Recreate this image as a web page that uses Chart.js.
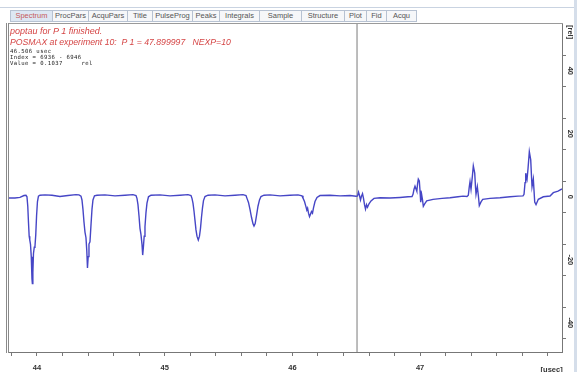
<!DOCTYPE html>
<html lang="en">
<head>
  <meta charset="UTF-8" />
  <title>Spectrum - poptau P 1</title>
  <script src="https://cdn.jsdelivr.net/npm/chart.js"></script>

  <style>
    body {
      margin: 0;
      background: #fff;
      font-family: "Liberation Sans", Arial, sans-serif;
    }

    #window {
      position: relative;
      width: 577px;
      height: 372px;
      overflow: hidden;
    }

    #plot-container {
      position: absolute;
      left: 0;
      top: 0;
      width: 577px;
      height: 372px;
    }

    #top-line {
      position: absolute;
      left: 0;
      top: 7px;
      width: 577px;
      height: 1px;
      background: #c9d3e1;
    }

    #tabs {
      position: absolute;
      left: 10px;
      top: 10px;
      height: 12px;
      display: flex;
    }

    .tab {
      box-sizing: border-box;
      height: 12px;
      border: 1px solid #b7c2d2;
      border-left: none;
      background: #f6f7f9;
      color: #555;
      font-size: 7.5px;
      line-height: 10px;
      text-align: center;
      white-space: nowrap;
    }

    .tab:first-child {
      border-left: 1px solid #b7c2d2;
    }

    .tab.selected {
      background: #dde7f3;
      color: #c65a5a;
    }

    #frame-top {
      position: absolute;
      left: 8px;
      top: 23px;
      width: 555px;
      height: 1px;
      background: #9a9a9a;
    }

    #frame-left {
      position: absolute;
      left: 6px;
      top: 23px;
      width: 1px;
      height: 330px;
      border-left: 1px solid #8a8a8a;
      border-right: 1px solid #8a8a8a;
    }

    #right-strip {
      position: absolute;
      left: 574px;
      top: 0;
      width: 3px;
      height: 372px;
      background: #d5deea;
    }

    .msg {
      position: absolute;
      left: 10px;
      color: #d54545;
      font-style: italic;
      font-size: 9px;
      white-space: pre;
    }

    .info {
      position: absolute;
      left: 10px;
      color: #222;
      font-family: "DejaVu Sans Mono", monospace;
      font-size: 5.6px;
      letter-spacing: 0.4px;
      white-space: pre;
    }
  </style>
</head>
<body>

  <div id="window">
    <div id="plot-container">
      <canvas id="spectrumChart"></canvas>
    </div>

    <div id="top-line"></div>
    <div id="tabs"></div>
    <div id="frame-top"></div>
    <div id="frame-left"></div>
    <div id="right-strip"></div>

    <div class="msg" style="top:26px;">poptau for P 1 finished.</div>
    <div class="msg" style="top:37px; font-size:8.7px;">POSMAX at experiment 10:  P 1 = 47.899997   NEXP=10</div>
    <div class="info" style="top:48px;">46.506 usec</div>
    <div class="info" style="top:54px;">Index = 6936 - 6946</div>
    <div class="info" style="top:60px;">Value = 0.1037     rel</div>
  </div>

  <script>
    // tabs of the data window
    const tabNames = ["Spectrum", "ProcPars", "AcquPars", "Title", "PulseProg", "Peaks",
                      "Integrals", "Sample", "Structure", "Plot", "Fid", "Acqu"];
    const tabWidths = [43, 36, 39, 25, 40, 27, 40, 42, 43, 22, 20, 30];

    // spectrum: time [usec] / intensity [rel]
    const spectrumUsec = [
      43.7807, 43.8277, 43.8669, 43.8982, 43.9139, 43.9217, 43.9280, 43.9334, 43.9389, 43.9436,
      43.9491, 43.9554, 43.9608, 43.9640, 43.9679, 43.9726, 43.9789, 43.9843, 43.9906, 43.9969,
      44.0039, 44.0117, 44.0235, 44.0626, 44.1175, 44.1801, 44.2428, 44.3054, 44.3289, 44.3446,
      44.3524, 44.3602, 44.3681, 44.3759, 44.3837, 44.3900, 44.3955, 44.4009, 44.4072, 44.4150,
      44.4229, 44.4307, 44.4385, 44.4503, 44.4699, 44.5325, 44.6108, 44.6891, 44.7518, 44.7753,
      44.7831, 44.7909, 44.7988, 44.8066, 44.8144, 44.8222, 44.8277, 44.8332, 44.8395, 44.8457,
      44.8536, 44.8614, 44.8731, 44.8927, 44.9632, 45.0415, 45.1198, 45.1825, 45.2060,
      45.2138, 45.2216, 45.2295, 45.2373, 45.2451, 45.2529, 45.2631, 45.2725, 45.2804, 45.2882,
      45.2960, 45.3038, 45.3156, 45.3391, 45.3939, 45.4722, 45.5505, 45.6132, 45.6367,
      45.6445, 45.6562, 45.6680, 45.6797, 45.6915, 45.6993, 45.7087, 45.7189, 45.7306, 45.7424,
      45.7541, 45.7776, 45.8246, 45.9029, 45.9812, 46.0439, 46.0752,
      46.0830, 46.0948, 46.1065, 46.1128, 46.1190, 46.1261, 46.1339, 46.1418, 46.1496, 46.1574,
      46.1652, 46.1770, 46.1927, 46.2161, 46.2945, 46.3728, 46.4511, 46.4981,
      46.5098, 46.5176, 46.5255, 46.5333, 46.5411, 46.5490, 46.5568, 46.5646, 46.5725, 46.5803,
      46.5881, 46.5999, 46.6155, 46.6390, 46.6860, 46.7643, 46.8426, 46.9053, 46.9366,
      46.9444, 46.9523, 46.9601, 46.9679, 46.9742, 46.9804, 46.9859, 46.9938, 46.9992, 47.0047,
      47.0125, 47.0188, 47.0251, 47.0345, 47.0517, 47.1010, 47.1715, 47.2342, 47.2968, 47.3360,
      47.3673,
      47.3775, 47.3845, 47.3908, 47.3986, 47.4080, 47.4166, 47.4276, 47.4339, 47.4378, 47.4480,
      47.4558, 47.4636, 47.4769, 47.4902, 47.5474, 47.6257, 47.7040, 47.7667, 47.8058,
      47.8137, 47.8215, 47.8270, 47.8332, 47.8371, 47.8450, 47.8552, 47.8661, 47.8716, 47.8763,
      47.8865, 47.8974, 47.9076, 47.9256, 47.9648, 48.0173, 48.0431, 48.0799, 48.1112
    ];
    const spectrumRel = [
      -0.4, -0.4, -0.2, 0.4, 0.5, 0.0, -3, -8, -12.5, -13.7,
      -15, -19, -26, -27.5, -24, -18, -16, -15.8, -12, -6,
      -1.5, 0.2, 0.5, 0.6, 0.5, 0.1, 0.4, 0.7, 0.6, 0.2,
      -1, -4, -8, -11.2, -13, -17, -22.6, -19, -15, -14.3,
      -9, -4, -1, 0.3, 0.5, 0.6, 0.3, 0.5, 0.7, 0.4,
      -0.5, -2.5, -6, -10, -12, -15, -18.5, -16, -12.5, -9.5,
      -5, -2, 0, 0.5, 0.6, 0.3, 0.5, 0.7, 0.4,
      -0.5, -2, -4.5, -7.5, -10.5, -12.5, -13.7, -12.5, -10, -6.5,
      -3.5, -1.2, 0.1, 0.5, 0.6, 0.3, 0.5, 0.7, 0.4,
      -0.5, -1.8, -4, -6.5, -8.6, -9.3, -8.5, -6, -3, -1,
      0.1, 0.5, 0.6, 0.3, 0.5, 0.6, 0.3,
      -0.4, -1.5, -3.2, -4.2, -3.6, -5.2, -6.3, -5.5, -4.7, -5.2,
      -3.5, -1.5, -0.2, 0.4, 0.5, 0.3, 0.4, 0.2,
      0.3, 1.5, 0.4, -1.0, 0.2, 1.0, -0.5, -2.5, -3.9, -2.5,
      -3.3, -2.2, -1.3, -0.5, -0.3, -0.4, -0.2, 0.0, 0.1,
      0.8, 2.4, 3.4, 2.5, 1.8, 4.2, 5.6, 5.0, 2.0, -1.7,
      0.6, -1.0, -3.0, -2.3, -1.3, -0.8, -0.5, -0.3, 0.0, 0.2,
      0.1,
      0.5, 3.0, 4.8, 2.4, 6.0, 9.8, 7.5, 3.0, 0.8, 3.2,
      0.5, -2.8, -1.6, -0.8, -0.5, -0.3, 0.0, 0.2, 0.3,
      0.8, 4.5, 7.5, 6.0, 5.5, 9.0, 14.3, 11.7, 7.0, 3.2,
      5.6, -1.7, -2.5, -0.8, 0.0, 0.25, 1.3, 1.8, 2.5
    ];

    // cursor line position
    const cursorUsec = [46.506];

    // axes
    const xMin = 43.781;
    const xMax = 48.111;
    const yMin = -49.27;
    const yMax = 54.86;
    const xTicks = [43.8, 44, 44.2, 44.4, 44.6, 44.8, 45, 45.2, 45.4, 45.6, 45.8,
                    46, 46.2, 46.4, 46.6, 46.8, 47, 47.2, 47.4, 47.6, 47.8, 48];
    const xLabelValues = [44, 45, 46, 47];
    const xUnit = "[usec]";
    const xUnitAt = 48.03;
    const yTicks = [-45, -40, -35, -30, -25, -20, -15, -10, -5, 0, 5, 10, 15, 20, 25, 30, 35, 40, 45, 50];
    const yLabelValues = [40, 20, 0, -20, -40, 52.3];
    const yLabelTexts = ["40", "20", "0", "-20", "-40", "[rel]"];

    const tabBox = document.getElementById("tabs");
    tabNames.forEach((name, i) => {
      const t = document.createElement("div");
      t.className = "tab" + (i === 0 ? " selected" : "");
      t.style.width = tabWidths[i] + "px";
      t.textContent = name;
      tabBox.appendChild(t);
    });

    const axisFont = { family: "Liberation Sans", size: 7.5, weight: "bold" };

    // rotated labels of the right axis and the unit of the x axis
    const axisText = {
      id: "axisText",
      afterDraw(chart) {
        const ctx = chart.ctx;
        const x = chart.scales.x;
        const y = chart.scales.y;
        ctx.save();
        ctx.fillStyle = "#333";
        ctx.font = 'bold 7.5px "Liberation Sans"';
        ctx.textAlign = "center";
        ctx.textBaseline = "middle";
        yLabelValues.forEach((v, i) => {
          ctx.save();
          ctx.translate(y.left + 8, y.getPixelForValue(v));
          ctx.rotate(Math.PI / 2);
          ctx.fillText(yLabelTexts[i], 0, 0);
          ctx.restore();
        });
        ctx.textBaseline = "top";
        ctx.fillText(xUnit, x.getPixelForValue(xUnitAt), x.top + 14);
        ctx.restore();
      }
    };

    const ctx = document.getElementById("spectrumChart").getContext("2d");

    new Chart(ctx, {
      type: "scatter",
      data: {
        datasets: [
          {
            label: "spectrum",
            data: spectrumUsec.map((v, i) => ({ x: v, y: spectrumRel[i] })),
            showLine: true,
            borderColor: "#4646c6",
            borderWidth: 1.4,
            pointRadius: 0,
            tension: 0
          },
          {
            label: "cursor",
            data: [{ x: cursorUsec[0], y: yMin - 5 }, { x: cursorUsec[0], y: yMax + 5 }],
            showLine: true,
            borderColor: "#7a7a7a",
            borderWidth: 1,
            pointRadius: 0
          }
        ]
      },
      options: {
        responsive: true,
        maintainAspectRatio: false,
        animation: false,
        layout: {
          padding: { left: 9, top: 24, right: 0, bottom: 0 }
        },
        plugins: {
          legend: { display: false },
          tooltip: { enabled: false }
        },
        scales: {
          x: {
            type: "linear",
            min: xMin,
            max: xMax,
            afterBuildTicks: (scale) => {
              scale.ticks = xTicks.map(v => ({ value: v }));
            },
            afterFit: (scale) => {
              scale.height = 20;
            },
            grid: {
              drawOnChartArea: false,
              tickLength: 4,
              color: "#777"
            },
            border: { display: true, color: "#777" },
            ticks: {
              autoSkip: false,
              maxRotation: 0,
              padding: 7,
              color: "#333",
              font: axisFont,
              callback: (value) => xLabelValues.includes(value) ? String(value) : ""
            }
          },
          y: {
            type: "linear",
            position: "right",
            min: yMin,
            max: yMax,
            afterBuildTicks: (scale) => {
              scale.ticks = yTicks.map(v => ({ value: v }));
            },
            afterFit: (scale) => {
              scale.width = 15;
            },
            grid: {
              drawOnChartArea: false,
              tickLength: 4,
              color: "#777"
            },
            border: { display: true, color: "#777" },
            ticks: {
              callback: () => ""
            }
          }
        }
      },
      plugins: [axisText]
    });
  </script>

</body>
</html>
